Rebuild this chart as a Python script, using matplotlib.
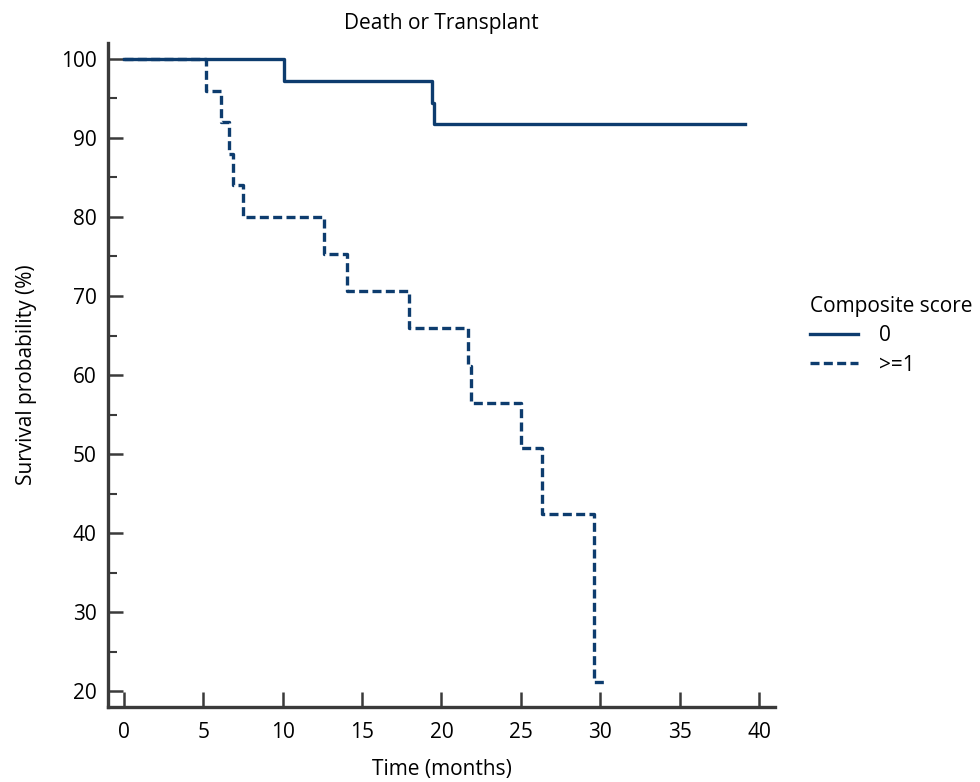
import matplotlib.pyplot as plt
from matplotlib.ticker import MultipleLocator

# Kaplan-Meier steps (time in months, survival in %)
time_score0 = [0, 10.1, 19.4, 19.55, 39.1]
surv_score0 = [100, 97.2, 94.4, 91.7, 91.7]

time_score1 = [0, 5.2, 6.15, 6.63, 6.85, 7.5, 12.6, 14.05, 17.95, 21.65, 21.85, 25.0, 26.3, 29.6, 30.3]
surv_score1 = [100, 96, 92, 88, 84, 80, 75.3, 70.6, 65.9, 61.2, 56.5, 50.8, 42.4, 21.2, 21.2]

group_labels = ["0", ">=1"]
x_ticks = [0, 5, 10, 15, 20, 25, 30, 35, 40]
y_ticks = [20, 30, 40, 50, 60, 70, 80, 90, 100]

plt.rcParams["font.family"] = ["Open Sans", "DejaVu Sans"]
color = "#0d3c6e"
axis_color = "#3a3a3a"
fs = 15

fig = plt.figure(figsize=(9.8, 7.82), dpi=100)
ax = fig.add_axes([0.110, 0.0959, 0.681, 0.849])

ax.step(time_score0, surv_score0, where="post", color=color, lw=2.4, label=group_labels[0])
ax.step(time_score1, surv_score1, where="post", color=color, lw=2.4,
        dashes=(2.7, 1.3), label=group_labels[1])

ax.set_xlim(-1, 41)
ax.set_ylim(18, 102)
ax.set_xticks(x_ticks)
ax.set_yticks(y_ticks)
ax.yaxis.set_minor_locator(MultipleLocator(5))

for side in ["top", "right"]:
    ax.spines[side].set_visible(False)
for side in ["left", "bottom"]:
    ax.spines[side].set_color(axis_color)
    ax.spines[side].set_linewidth(2.4)

ax.tick_params(axis="both", which="major", direction="in", length=11, width=1.8,
               color=axis_color, labelsize=fs)
ax.tick_params(axis="x", which="major", pad=11)
ax.tick_params(axis="y", which="major", pad=8)
ax.tick_params(axis="y", which="minor", direction="in", length=6.5, width=1.5, color=axis_color)

ax.set_title("Death or Transplant", fontsize=fs, pad=10)
ax.set_xlabel("Time (months)", fontsize=fs, labelpad=11)
ax.set_ylabel("Survival probability (%)", fontsize=fs, labelpad=17)

leg = ax.legend(title="Composite score", loc="upper left", bbox_to_anchor=(0.818, 0.632),
                bbox_transform=fig.transFigure, frameon=False, fontsize=fs,
                title_fontsize=fs, handlelength=2.3, handletextpad=1.0,
                labelspacing=0.4, borderaxespad=0)
leg._legend_box.align = "left"

fig.savefig("out.png", dpi=100)
